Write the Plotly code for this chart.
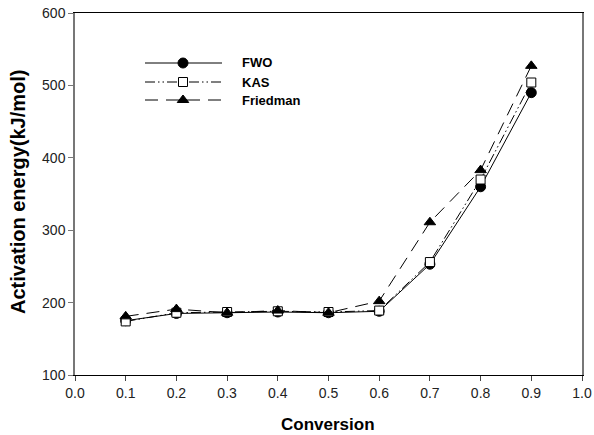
import plotly.graph_objects as go

conversion = [0.1, 0.2, 0.3, 0.4, 0.5, 0.6, 0.7, 0.8, 0.9]
fwo = [175, 185, 186, 187, 186, 188, 253, 360, 490]
kas = [174, 186, 187, 188, 187, 189, 256, 370, 504]
friedman = [181, 191, 186, 189, 186, 202, 311, 383, 527]
series_names = ["FWO", "KAS", "Friedman"]
x_ticks = [0.0, 0.1, 0.2, 0.3, 0.4, 0.5, 0.6, 0.7, 0.8, 0.9, 1.0]
y_ticks = [100, 200, 300, 400, 500, 600]

FONT = "Liberation Sans, Arial, sans-serif"

styles = [
    dict(dash="solid", symbol="circle", size=10, fill="black"),
    dict(dash="10px,3px,1.5px,3px,1.5px,3px", symbol="square", size=9, fill="white"),
    dict(dash="13px,8px", symbol="triangle-up", size=10, fill="black"),
]

fig = go.Figure()
for name, vals, st in zip(series_names, [fwo, kas, friedman], styles):
    fig.add_trace(go.Scatter(
        x=conversion, y=vals, name=name, mode="lines+markers",
        line=dict(color="black", width=1, dash=st["dash"]),
        marker=dict(symbol=st["symbol"], size=st["size"], color=st["fill"],
                    line=dict(color="black", width=1)),
        showlegend=False,
    ))

# Manual legend (paper coordinates)
W, H = 594, 435
l, r, t, b = 75, 12, 13, 60
pw, ph = W - l - r, H - t - b

def px(xp):
    return (xp - l) / pw

def py(yp):
    return 1 - (yp - t) / ph

rows = [63, 82, 100]
x0, x1, xm = 145, 222, 183
for name, st, yr in zip(series_names, styles, rows):
    fig.add_trace(go.Scatter(
        x=[px(x0), px(x1)], y=[py(yr), py(yr)], xaxis="x2", yaxis="y2",
        mode="lines", line=dict(color="black", width=1, dash=st["dash"]),
        showlegend=False, hoverinfo="skip"))
    fig.add_trace(go.Scatter(
        x=[px(xm)], y=[py(yr)], xaxis="x2", yaxis="y2", mode="markers",
        marker=dict(symbol=st["symbol"], size=st["size"], color=st["fill"],
                    line=dict(color="black", width=1)),
        showlegend=False, hoverinfo="skip"))
    fig.add_annotation(x=px(240), y=py(yr), xref="paper", yref="paper", text="<b>%s</b>" % name,
                       showarrow=False, xanchor="left", yanchor="middle",
                       font=dict(family=FONT, size=13, color="black"))

# Axis titles
fig.add_annotation(x=px(328), y=py(424), xref="paper", yref="paper", text="<b>Conversion</b>",
                   showarrow=False, xanchor="center", yanchor="middle",
                   font=dict(family=FONT, size=17, color="black"))
fig.add_annotation(x=px(18), y=py(192), xref="paper", yref="paper",
                   text="<b>Activation energy(kJ/mol)</b>", textangle=-90,
                   showarrow=False, xanchor="center", yanchor="middle",
                   font=dict(family=FONT, size=20, color="black"))

fig.update_layout(
    width=W, height=H,
    margin=dict(l=l, r=r, t=t, b=b, autoexpand=False),
    paper_bgcolor="white", plot_bgcolor="white",
    font=dict(family=FONT, size=14, color="#222"),
    xaxis=dict(range=[0, 1.0], tickvals=x_ticks, ticktext=["%.1f" % v for v in x_ticks],
               showgrid=False, zeroline=False, showline=True, linecolor="black", linewidth=1,
               mirror=True, ticks="outside", ticklen=5, tickcolor="#444", automargin=False),
    yaxis=dict(range=[100, 600], tickvals=y_ticks, showgrid=False, zeroline=False,
               showline=True, linecolor="#777", linewidth=1.5, mirror=True,
               ticks="outside", ticklen=5, tickcolor="#777", automargin=False),
    xaxis2=dict(range=[0, 1], overlaying="x", visible=False, fixedrange=True),
    yaxis2=dict(range=[0, 1], overlaying="y", visible=False, fixedrange=True),
    showlegend=False,
)

fig.write_html("out.html", config={"displayModeBar": False},
               post_script="document.body.style.margin='0px';")
